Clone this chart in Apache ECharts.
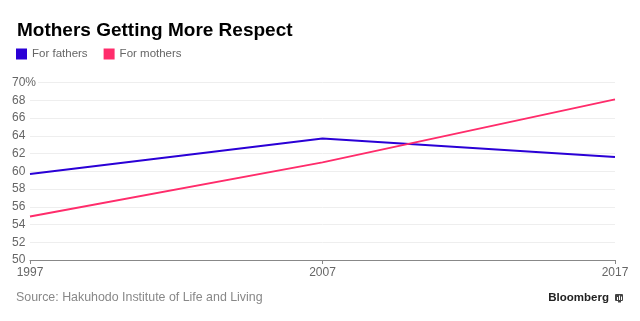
<!DOCTYPE html>
<html>
<head>
<meta charset="utf-8">
<style>
  html, body { margin: 0; padding: 0; background: #fff; }
  #chart { width: 640px; height: 321px; }
</style>
<script src="https://cdn.jsdelivr.net/npm/echarts@6/dist/echarts.min.js"></script>
</head>
<body>
<div id="chart"></div>
<script>
// Survey years and shares of respondents (%)
const years = ['1997', '2007', '2017'];
const fathers = [59.7, 63.7, 61.6];
const mothers = [54.9, 61.0, 68.1];
const yTicks = [50, 52, 54, 56, 58, 60, 62, 64, 66, 68, 70];

const BLUE = '#2a00d6';
const PINK = '#ff2c6b';
const FONT = '"Liberation Sans", Arial, Helvetica, sans-serif';

const chart = echarts.init(document.getElementById('chart'), null, { renderer: 'canvas' });

chart.setOption({
  animation: false,
  backgroundColor: '#fff',
  textStyle: { fontFamily: FONT },
  title: {
    text: 'Mothers Getting More Respect',
    left: 12,
    top: 16,
    textStyle: { fontFamily: FONT, fontSize: 19, fontWeight: 'bold', color: '#000' }
  },
  legend: {
    left: 11,
    top: 43,
    itemWidth: 11,
    itemHeight: 11,
    itemGap: 16,
    icon: 'rect',
    textStyle: { fontFamily: FONT, fontSize: 11.5, color: '#666' },
    data: ['For fathers', 'For mothers']
  },
  grid: { left: 30, right: 25, top: 82.5, bottom: 61 },
  xAxis: {
    type: 'category',
    data: years,
    boundaryGap: false,
    axisLine: { lineStyle: { color: '#888', width: 1 } },
    axisTick: { show: true, length: 4, lineStyle: { color: '#888' } },
    axisLabel: { color: '#666', fontSize: 12, fontFamily: FONT, margin: 7 },
    splitLine: { show: false }
  },
  yAxis: {
    type: 'value',
    min: yTicks[0],
    max: yTicks[yTicks.length - 1],
    interval: 2,
    axisLine: { show: false },
    axisTick: { show: false },
    axisLabel: {
      color: '#666',
      fontSize: 12,
      fontFamily: FONT,
      align: 'left',
      margin: 18,
      backgroundColor: '#fff',
      padding: [0, 2, 0, 0],
      formatter: v => (v === yTicks[yTicks.length - 1] ? v + '%' : String(v))
    },
    splitLine: { lineStyle: { color: '#eeeeee', width: 1 } }
  },
  series: [
    {
      name: 'For fathers',
      type: 'line',
      data: fathers,
      symbol: 'none',
      itemStyle: { color: BLUE },
      lineStyle: { color: BLUE, width: 2 }
    },
    {
      name: 'For mothers',
      type: 'line',
      data: mothers,
      symbol: 'none',
      itemStyle: { color: PINK },
      lineStyle: { color: PINK, width: 2 }
    }
  ],
  graphic: [
    {
      type: 'text',
      left: 16,
      top: 292,
      style: {
        text: 'Source: Hakuhodo Institute of Life and Living',
        fill: '#888',
        font: '12.4px ' + FONT
      }
    },
    {
      type: 'text',
      right: 31,
      top: 292,
      style: {
        text: 'Bloomberg',
        fill: '#222',
        font: 'bold 11.5px ' + FONT
      }
    },
    {
      type: 'group',
      right: 17,
      top: 294,
      children: [
        { type: 'rect', shape: { x: 0, y: 0, width: 8, height: 7, r: 1 }, style: { fill: '#444' } },
        { type: 'rect', shape: { x: 3, y: 7, width: 3, height: 1.5 }, style: { fill: '#444' } },
        { type: 'rect', shape: { x: 2, y: 3, width: 1, height: 3 }, style: { fill: '#fff' } },
        { type: 'rect', shape: { x: 4, y: 1.5, width: 1, height: 4.5 }, style: { fill: '#fff' } },
        { type: 'rect', shape: { x: 6, y: 2.5, width: 1, height: 3.5 }, style: { fill: '#fff' } }
      ]
    }
  ]
});
</script>
</body>
</html>
